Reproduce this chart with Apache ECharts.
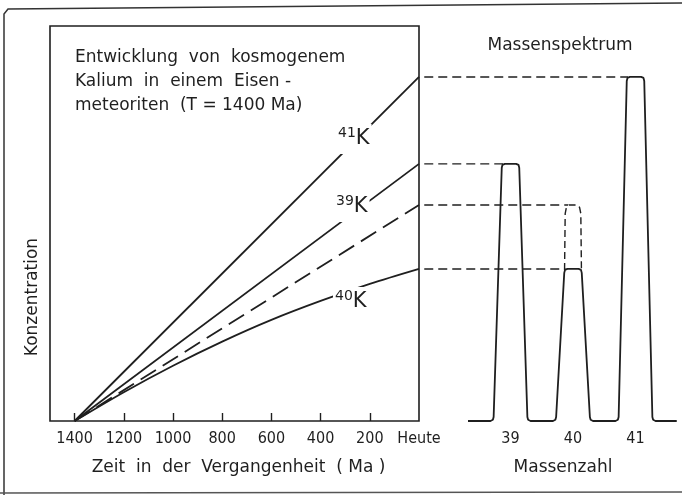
<!DOCTYPE html>
<html>
<head>
<meta charset="utf-8">
<style>
html, body { margin: 0; padding: 0; background: #fff; }
#main { width: 682px; height: 495px; }
</style>
<script src="https://cdn.jsdelivr.net/npm/echarts@6/dist/echarts.min.js"></script>
</head>
<body>
<div id="main"></div>
<script>
// Zeitachse (Ma vor heute) und Konzentrationen (willkuerliche Einheiten 0-100)
var timeLabels = [1400, 1200, 1000, 800, 600, 400, 200, 0];
var timeTicks = [1400, 1200, 1000, 800, 600, 400, 200];
var k41 = [[1400, 0], [0, 87.1]];
var k39 = [[1400, 0], [0, 65.1]];
var k40Stable = [[1400, 0], [0, 54.7]];   // 40K ohne Zerfall (gestrichelt)
var k40 = [[1400, 0], [1200, 7.3], [1000, 14.0], [800, 20.1], [600, 25.6], [400, 30.4], [200, 34.7], [0, 38.5]];

// Massenspektrum
var masses = [39, 40, 41];
var peakHeights = [65.1, 38.5, 87.1];
var peak40Stable = 54.7;

var ink = '#1f1f1f';
var font = 'DejaVu Sans';

// Trapezfoermige Peaks mit leicht gerundeten Ecken
var footHalf = 0.27, topHalf = 0.14;
function spectrumLine() {
    var pts = [[38.32, 0]];
    masses.forEach(function (m, i) {
        var h = peakHeights[i];
        pts.push([m - footHalf - 0.05, 0], [m - footHalf - 0.012, 0.3], [m - footHalf, 1.0],
            [m - topHalf, h - 1.0], [m - topHalf + 0.012, h - 0.25], [m - topHalf + 0.05, h],
            [m + topHalf - 0.05, h], [m + topHalf - 0.012, h - 0.25], [m + topHalf, h - 1.0],
            [m + footHalf, 1.0], [m + footHalf + 0.012, 0.3], [m + footHalf + 0.05, 0]);
    });
    pts.push([41.66, 0]);
    return pts;
}
var h40 = peakHeights[1];
var dashedPeak = [[40 - topHalf + 0.005, h40 - 0.3], [40 - topHalf + 0.015, peak40Stable - 2.2],
    [40 - topHalf + 0.035, peak40Stable - 0.6], [40 - topHalf + 0.075, peak40Stable],
    [40 + topHalf - 0.075, peak40Stable], [40 + topHalf - 0.035, peak40Stable - 0.6],
    [40 + topHalf - 0.015, peak40Stable - 2.2], [40 + topHalf - 0.005, h40 - 0.3]];

// Hilfslinien vom Diagramm zu den Peakspitzen
var guideStart = 37.62;
var guides = [
    [[guideStart, peakHeights[2]], [41 - topHalf + 0.02, peakHeights[2]]],
    [[guideStart, peakHeights[0]], [39 - topHalf + 0.02, peakHeights[0]]],
    [[guideStart, peak40Stable], [40 - topHalf + 0.06, peak40Stable]],
    [[guideStart, peakHeights[1]], [40 - topHalf + 0.02, peakHeights[1]]]
];

function lineSeries(data, dash, extra) {
    var s = {
        type: 'line', data: data, showSymbol: false, silent: true,
        lineStyle: { color: ink, width: 1.8, type: dash || 'solid' },
        xAxisIndex: 0, yAxisIndex: 0, z: 2
    };
    for (var k in extra) s[k] = extra[k];
    return s;
}

var series = [
    lineSeries(k41),
    lineSeries(k39),
    lineSeries(k40Stable, [18, 8]),
    lineSeries(k40, null, { smooth: 0.3 }),
    lineSeries(spectrumLine(), null, { xAxisIndex: 1, yAxisIndex: 1 }),
    lineSeries(dashedPeak, null, { xAxisIndex: 1, yAxisIndex: 1, lineStyle: { color: ink, width: 1.4, type: [7, 4] } })
];
guides.forEach(function (g) {
    series.push(lineSeries(g, null, { xAxisIndex: 1, yAxisIndex: 1, lineStyle: { color: ink, width: 1.4, type: [9, 5] } }));
});

function kLabel(mass, x, y) {
    return {
        type: 'text', x: x, y: y, z: 100,
        style: {
            text: '{a|' + mass + '}{b|K}',
            backgroundColor: '#fff', padding: [2, 2, 2, 2],
            rich: {
                a: { fontFamily: font, fontSize: 14, fill: ink, verticalAlign: 'top', lineHeight: 24 },
                b: { fontFamily: font, fontSize: 21, fill: ink, lineHeight: 26 }
            }
        }
    };
}

var chart = echarts.init(document.getElementById('main'), null, { renderer: 'canvas' });
chart.setOption({
    animation: false,
    backgroundColor: '#fff',
    textStyle: { fontFamily: font, color: ink },
    title: {
        text: 'Entwicklung  von  kosmogenem\nKalium  in  einem  Eisen -\nmeteoriten  (T = 1400 Ma)',
        left: 75, top: 46, padding: 0,
        textStyle: { fontFamily: font, fontSize: 17, fontWeight: 'normal', color: ink, lineHeight: 24 }
    },
    grid: [
        { left: 50, top: 26, width: 369, height: 395, show: true, borderColor: ink, borderWidth: 1.6, backgroundColor: 'transparent' },
        { left: 420, top: 26, width: 257, height: 395 }
    ],
    xAxis: [
        {
            type: 'value', gridIndex: 0, inverse: true, min: 0, max: 1500,
            axisLine: { show: false },
            axisTick: { show: true, inside: true, length: 8, customValues: timeTicks, lineStyle: { color: ink, width: 1.4 } },
            axisLabel: {
                customValues: timeLabels, margin: 10, color: ink, fontFamily: 'DejaVu Sans Condensed, Liberation Sans', fontSize: 16,
                formatter: function (v) { return v === 0 ? 'Heute' : String(v); }
            },
            splitLine: { show: false },
            name: 'Zeit  in  der  Vergangenheit  ( Ma )', nameLocation: 'middle', nameGap: 38,
            nameTextStyle: { fontFamily: font, fontSize: 17, color: ink, padding: [0, 0, 0, 8] }
        },
        {
            type: 'value', gridIndex: 1, min: 37.552, max: 41.664,
            axisLine: { show: false }, axisTick: { show: false }, splitLine: { show: false },
            axisLabel: { customValues: masses, margin: 10, color: ink, fontFamily: 'DejaVu Sans Condensed, Liberation Sans', fontSize: 16 },
            name: 'Massenzahl', nameLocation: 'middle', nameGap: 38,
            nameTextStyle: { fontFamily: font, fontSize: 17, color: ink, padding: [0, 0, 0, 29] }
        }
    ],
    yAxis: [
        { type: 'value', gridIndex: 0, min: 0, max: 100, axisLine: { show: false }, axisTick: { show: false }, axisLabel: { show: false }, splitLine: { show: false } },
        { type: 'value', gridIndex: 1, min: 0, max: 100, axisLine: { show: false }, axisTick: { show: false }, axisLabel: { show: false }, splitLine: { show: false } }
    ],
    graphic: [
        { type: 'text', x: 560, y: 46, z: 100, style: { text: 'Massenspektrum', fontFamily: font, fontSize: 17, fill: ink, align: 'center', verticalAlign: 'middle' } },
        { type: 'text', x: 33, y: 297, rotation: Math.PI / 2, z: 100, style: { text: 'Konzentration', fontFamily: font, fontSize: 17, fill: ink, align: 'center', verticalAlign: 'middle' } },
        kLabel(41, 336, 124),
        kLabel(39, 334, 192),
        kLabel(40, 333, 287),
        // Rahmen der Vorlage
        { type: 'polyline', z: 100, shape: { points: [[4, 495], [4, 14], [8, 9], [682, 3]] }, style: { stroke: '#333', lineWidth: 1.5, fill: null } },
        { type: 'polyline', z: 100, shape: { points: [[0, 493], [682, 492]] }, style: { stroke: '#555', lineWidth: 1.5, fill: null } }
    ],
    series: series
});
</script>
</body>
</html>
